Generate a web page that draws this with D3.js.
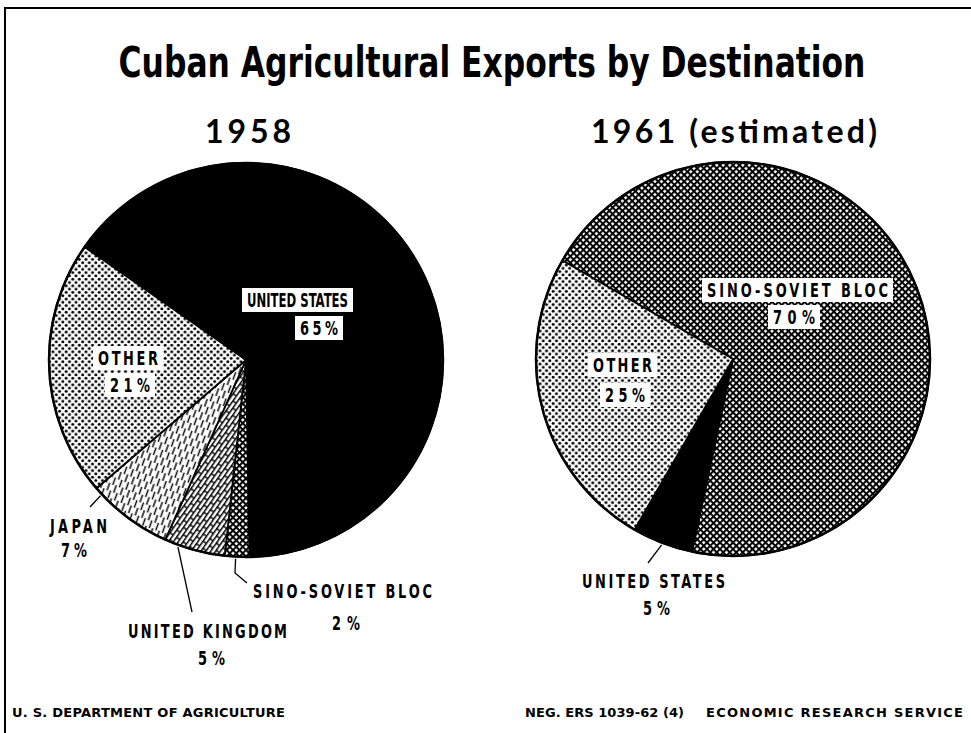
<!DOCTYPE html>
<meta charset="utf-8">
<style>
  body { margin: 0; background: #fff; }
  svg { display: block; }
</style>
<body>
<svg width="971" height="733"></svg>
<script src="https://d3js.org/d3.v7.min.js"></script>
<script>
  // chart values
  var destinations1958 = ['UNITED STATES', 'SINO-SOVIET BLOC', 'UNITED KINGDOM', 'JAPAN', 'OTHER'];
  var shares1958 = [65, 2, 5, 7, 21];
  var destinations1961 = ['SINO-SOVIET BLOC', 'UNITED STATES', 'OTHER'];
  var shares1961 = [70, 5, 25];
  var yearTitles = ['1958', '1961 (estimated)'];

  var svg = d3.select('svg');
  var defs = svg.append('defs');
  var labelFont = '"DejaVu Sans Condensed", "Liberation Sans Narrow", sans-serif';

  // put text centred at x, baseline y, squeezed or spaced out to width w
  function fitText(parent, str, x, y, w, opts) {
    var g = parent.append('g');
    var t = g.append('text')
      .attr('text-anchor', 'middle')
      .attr('font-family', opts.family)
      .attr('font-weight', opts.weight || 'normal')
      .attr('font-size', opts.size)
      .text(str);
    var w0 = t.node().getComputedTextLength();
    var sx = opts.squeeze || 1;
    if (w0 * sx > w) {
      sx = w / w0;
    } else if (str.length > 1) {
      t.attr('textLength', w / sx).attr('lengthAdjust', 'spacing');
    }
    g.attr('transform', 'translate(' + x + ',' + y + ') scale(' + sx + ',1)');
    return g;
  }

  // fill patterns
  var dots = defs.append('pattern').attr('id', 'dots')
    .attr('patternUnits', 'userSpaceOnUse').attr('width', 6.6).attr('height', 6.6);
  dots.append('rect').attr('width', 6.6).attr('height', 6.6).attr('fill', '#fff');
  dots.append('circle').attr('cx', 1.65).attr('cy', 1.65).attr('r', 1.5).attr('fill', '#000');
  dots.append('circle').attr('cx', 4.95).attr('cy', 4.95).attr('r', 1.5).attr('fill', '#000');

  var hatch = defs.append('pattern').attr('id', 'hatch')
    .attr('patternUnits', 'userSpaceOnUse').attr('width', 4.6).attr('height', 4.6)
    .attr('patternTransform', 'rotate(45)');
  hatch.append('rect').attr('width', 4.6).attr('height', 4.6).attr('fill', '#fff');
  hatch.append('rect').attr('width', 4.6).attr('height', 2).attr('fill', '#000');
  hatch.append('rect').attr('width', 2).attr('height', 4.6).attr('fill', '#000');

  var dash = defs.append('pattern').attr('id', 'dash')
    .attr('patternUnits', 'userSpaceOnUse').attr('width', 7).attr('height', 14)
    .attr('patternTransform', 'rotate(20)');
  dash.append('rect').attr('width', 7).attr('height', 14).attr('fill', '#fff');
  dash.append('path')
    .attr('d', 'M1.5,1 V9 M5,8 V16 M5,-6 V2')
    .attr('stroke', '#000').attr('stroke-width', 1.4).attr('fill', 'none');

  var brick = defs.append('pattern').attr('id', 'brick')
    .attr('patternUnits', 'userSpaceOnUse').attr('width', 12).attr('height', 8)
    .attr('patternTransform', 'rotate(-55)');
  brick.append('rect').attr('width', 12).attr('height', 8).attr('fill', '#fff');
  brick.append('path')
    .attr('d', 'M0,0.7 H12 M0,4.7 H12 M1,0.7 V4.7 M7,4.7 V8.7 M7,-3.3 V0.7')
    .attr('stroke', '#000').attr('stroke-width', 1.4).attr('fill', 'none');

  var fills = {
    'UNITED STATES': '#000',
    'SINO-SOVIET BLOC': 'url(#hatch)',
    'UNITED KINGDOM': 'url(#brick)',
    'JAPAN': 'url(#dash)',
    'OTHER': 'url(#dots)'
  };

  // frame
  svg.append('line').attr('x1', 4).attr('y1', 8).attr('x2', 971).attr('y2', 8)
    .attr('stroke', '#000').attr('stroke-width', 2);
  svg.append('line').attr('x1', 5).attr('y1', 8).attr('x2', 5).attr('y2', 733)
    .attr('stroke', '#000').attr('stroke-width', 2);

  fitText(svg, 'Cuban Agricultural Exports by Destination', 492, 77, 747,
    {family: labelFont, weight: 'bold', size: 42});

  var rad = function (deg) { return deg * Math.PI / 180; };

  // label spots for each pie (annotation layout, not data)
  var layout = [
    {
      cx: 246, cy: 360, r: 197, start: -55, title: {x: 248, w: 86},
      labels: {
        'UNITED STATES': {box: true, x: 297.5, y: 307, w: 101, px: 319, py: 335, pw: 38},
        'OTHER': {box: true, x: 128, y: 365, w: 60, px: 130, py: 392, pw: 40},
        'JAPAN': {x: 78.5, y: 533, w: 57, px: 74, py: 557, pw: 26, lead: {a: 227, pts: [[90, 507]]}},
        'UNITED KINGDOM': {x: 207.5, y: 638, w: 159, px: 211.5, py: 665, pw: 27, lead: {a: 200, pts: [[192, 612]]}},
        'SINO-SOVIET BLOC': {x: 342.5, y: 598, w: 179, px: 346, py: 630, pw: 28, lead: {a: 183, pts: [[235, 573], [247, 583]]}}
      }
    },
    {
      cx: 733, cy: 359, r: 197, start: -60, title: {x: 734, w: 286},
      labels: {
        'SINO-SOVIET BLOC': {box: true, x: 797.5, y: 297, w: 181, px: 794, py: 324, pw: 42},
        'OTHER': {box: true, x: 622.5, y: 372, w: 59, px: 625, py: 402, pw: 40},
        'UNITED STATES': {x: 653.5, y: 588, w: 143, px: 656.5, py: 615, pw: 27, lead: {a: 201, pts: [[648, 563]]}}
      }
    }
  ];

  var pies = [
    {names: destinations1958, values: shares1958},
    {names: destinations1961, values: shares1961}
  ];

  pies.forEach(function (p, k) {
    var L = layout[k];
    var rows = p.names.map(function (n, i) { return {name: n, value: p.values[i]}; });

    fitText(svg, yearTitles[k], L.title.x, 143, L.title.w,
      {family: 'Lato, "DejaVu Sans", sans-serif', weight: 'bold', size: 32});

    var pie = d3.pie().sort(null).value(function (d) { return d.value; })
      .startAngle(rad(L.start)).endAngle(rad(L.start + 360));
    var arc = d3.arc().innerRadius(0).outerRadius(L.r);

    var g = svg.append('g').attr('transform', 'translate(' + L.cx + ',' + L.cy + ')');
    g.selectAll('path.slice').data(pie(rows)).enter()
      .append('path')
      .attr('class', 'slice')
      .attr('d', arc)
      .attr('fill', function (d) { return fills[d.data.name]; })
      .attr('stroke', '#000')
      .attr('stroke-width', 1.8)
      .attr('stroke-linejoin', 'round');
    g.append('circle').attr('r', L.r).attr('fill', 'none')
      .attr('stroke', '#000').attr('stroke-width', 2.5);

    // labels
    rows.forEach(function (d) {
      var s = L.labels[d.name];
      if (!s) return;
      var lg = svg.append('g');
      if (s.lead) {
        var a = rad(s.lead.a);
        var pts = [[L.cx + (L.r + 2) * Math.sin(a), L.cy - (L.r + 2) * Math.cos(a)]].concat(s.lead.pts);
        lg.append('path')
          .attr('d', d3.line()(pts))
          .attr('fill', 'none').attr('stroke', '#000').attr('stroke-width', 1.3);
      }
      [[d.name, s.x, s.y, s.w], [d.value + '%', s.px, s.py, s.pw]].forEach(function (t) {
        if (s.box) {
          lg.append('rect').attr('fill', '#fff')
            .attr('x', t[1] - t[3] / 2 - 5).attr('y', t[2] - 19)
            .attr('width', t[3] + 10).attr('height', 24);
        }
        fitText(lg, t[0], t[1], t[2], t[3],
          {family: labelFont, weight: 'bold', size: 20, squeeze: 0.72});
      });
    });
  });

  // footer
  var footer = [
    {text: 'U. S. DEPARTMENT OF AGRICULTURE', x: 148.5, w: 273},
    {text: 'NEG. ERS 1039-62 (4)', x: 604.5, w: 159},
    {text: 'ECONOMIC RESEARCH SERVICE', x: 834.5, w: 257}
  ];
  footer.forEach(function (d) {
    fitText(svg, d.text, d.x, 717, d.w,
      {family: '"DejaVu Sans", sans-serif', weight: 'bold', size: 13});
  });
</script>
</body>
